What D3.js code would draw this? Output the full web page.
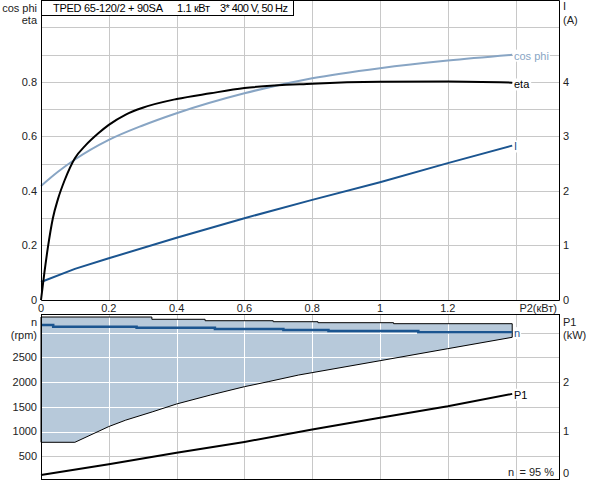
<!DOCTYPE html>
<html>
<head>
<meta charset="utf-8">
<script src="https://cdn.jsdelivr.net/npm/d3@7"></script>
<style>
  body { margin: 0; background: #fff; }
  svg { display: block; font-family: "Liberation Sans", Arial, sans-serif; font-size: 11px; }
</style>
</head>
<body>
<div id="chart"></div>
<script>
// Top panel: cos phi, eta and I against P2
const cosP2 = [0, 0.05, 0.1, 0.2, 0.3, 0.4, 0.6, 0.8, 1.0, 1.2, 1.39];
const cosPhi = [0.418, 0.47, 0.515, 0.587, 0.64, 0.685, 0.758, 0.813, 0.85, 0.878, 0.899];

const etaP2 = [0, 0.01, 0.02, 0.035, 0.05, 0.07, 0.1, 0.13, 0.17, 0.2, 0.25, 0.3, 0.4, 0.5, 0.6, 0.8, 1.0, 1.2, 1.39];
const eta = [0, 0.1, 0.19, 0.3, 0.37, 0.44, 0.52, 0.565, 0.612, 0.642, 0.68, 0.705, 0.737, 0.758, 0.777, 0.793, 0.8, 0.801, 0.797];

const curP2 = [0, 0.1, 0.2, 0.4, 0.6, 0.8, 1.0, 1.2, 1.39];
const current = [0.33, 0.57, 0.765, 1.14, 1.5, 1.835, 2.16, 2.51, 2.83];

// Bottom panel: speed range, actual speed and P1
const maxP2 = [0, 0.327, 0.484, 0.685, 0.817, 1.04, 1.39];
const nMax = [3313, 3267, 3238, 3218, 3198, 3178, 3178];

const minP2 = [0, 0.1, 0.2, 0.25, 0.33, 0.4, 0.5, 0.6, 0.67, 0.76, 1.0, 1.2, 1.39];
const nMin = [782, 782, 1100, 1230, 1400, 1556, 1737, 1905, 2006, 2141, 2430, 2673, 2903];

const speedP2 = [0, 0.036, 0.282, 0.513, 0.715, 0.848, 1.113, 1.39];
const speed = [3152, 3117, 3097, 3071, 3051, 3030, 3004, 3004];

const p1P2 = [0, 0.2, 0.4, 0.6, 0.8, 1.0, 1.2, 1.39];
const p1 = [0.12, 0.34, 0.57, 0.79, 1.04, 1.28, 1.51, 1.76];

const xTicks = [0, 0.2, 0.4, 0.6, 0.8, 1, 1.2];
const leftTicks = [0, 0.2, 0.4, 0.6, 0.8];
const currentTicks = [0, 1, 2, 3, 4];
const rpmTicks = [500, 1000, 1500, 2000, 2500];
const p1Ticks = [1, 2];

const titleParts = ['TPED 65-120/2 + 90SA', '1.1 кВт', '3* 400 V, 50 Hz'];

const width = 592, height = 480;
const left = 41, right = 559;
const topY0 = 0, topY1 = 300;
const botY0 = 314, botY1 = 479;

const svg = d3.select('#chart').append('svg')
  .attr('width', width).attr('height', height);

const x = d3.scaleLinear().domain([0, 1.528]).range([left, right]);
const yTop = d3.scaleLinear().domain([0, 1.1]).range([topY1, topY0]);
const yCur = d3.scaleLinear().domain([0, 5.5]).range([topY1, topY0]);
const yRpm = d3.scaleLinear().domain([0, 3400]).range([481, 481 - 3400 * 0.0495]);
const yP1 = d3.scaleLinear().domain([0, 3.4]).range([481, 481 - 3400 * 0.0495]);

const gridColor = '#c8c8c8';
const xGrid = d3.range(0.2, 1.41, 0.2);

// Top grid
const gTop = svg.append('g');
gTop.selectAll('.hg').data(d3.range(0.1, 1.1, 0.1)).enter().append('line')
  .attr('x1', left).attr('x2', right)
  .attr('y1', (d) => Math.round(yTop(d)) + 0.5).attr('y2', (d) => Math.round(yTop(d)) + 0.5)
  .attr('stroke', gridColor);
gTop.selectAll('.vg').data(xGrid).enter().append('line')
  .attr('x1', (d) => Math.round(x(d)) + 0.5).attr('x2', (d) => Math.round(x(d)) + 0.5)
  .attr('y1', topY0).attr('y2', topY1)
  .attr('stroke', gridColor);

// Bottom grid
const gBot = svg.append('g');
const rpmGrid = [500, 1000, 1500, 2000, 2500, 3000];
function drawBottomGrid(g, color) {
  g.selectAll('.hg').data(rpmGrid).enter().append('line')
    .attr('x1', left).attr('x2', right)
    .attr('y1', (d) => Math.round(yRpm(d)) + 0.5).attr('y2', (d) => Math.round(yRpm(d)) + 0.5)
    .attr('stroke', color);
  g.selectAll('.vg').data(xGrid).enter().append('line')
    .attr('x1', (d) => Math.round(x(d)) + 0.5).attr('x2', (d) => Math.round(x(d)) + 0.5)
    .attr('y1', botY0).attr('y2', botY1)
    .attr('stroke', color);
}
drawBottomGrid(gBot, gridColor);

// Speed range area
const upperPts = [];
maxP2.forEach((p, i) => {
  upperPts.push([x(p), yRpm(nMax[i])]);
  if (i < maxP2.length - 1) upperPts.push([x(maxP2[i + 1]), yRpm(nMax[i])]);
});
const lowerPts = minP2.map((p, i) => [x(p), yRpm(nMin[i])]);
const polyPts = upperPts.concat(lowerPts.slice().reverse());
const polyLine = d3.line();

svg.append('clipPath').attr('id', 'rangeClip')
  .append('path').attr('d', polyLine(polyPts) + 'Z');

svg.append('path')
  .attr('d', polyLine(polyPts) + 'Z')
  .attr('fill', '#b7c9da');

const gWhite = svg.append('g').attr('clip-path', 'url(#rangeClip)');
drawBottomGrid(gWhite, '#ffffff');

svg.append('path')
  .attr('d', polyLine(polyPts) + 'Z')
  .attr('fill', 'none')
  .attr('stroke', '#000')
  .attr('stroke-width', 1);

// Curve helpers
function linePath(xs, ys, yScale) {
  return d3.line().x((d) => x(d[0])).y((d) => yScale(d[1]))(xs.map((v, i) => [v, ys[i]]));
}

// Actual speed line
svg.append('path')
  .attr('d', d3.line().x((d) => x(d[0])).y((d) => yRpm(d[1])).curve(d3.curveStepAfter)(speedP2.map((v, i) => [v, speed[i]])))
  .attr('fill', 'none').attr('stroke', '#1b5590').attr('stroke-width', 2.5);

// P1
svg.append('path')
  .attr('d', linePath(p1P2, p1, yP1))
  .attr('fill', 'none').attr('stroke', '#000').attr('stroke-width', 2);

// Top curves
svg.append('path')
  .attr('d', linePath(curP2, current, yCur))
  .attr('fill', 'none').attr('stroke', '#1b5590').attr('stroke-width', 2);
svg.append('path')
  .attr('d', d3.line().x((d) => x(d[0])).y((d) => yTop(d[1])).curve(d3.curveMonotoneX)(cosP2.map((v, i) => [v, cosPhi[i]])))
  .attr('fill', 'none').attr('stroke', '#88a5c4').attr('stroke-width', 2);
svg.append('path')
  .attr('d', d3.line().x((d) => x(d[0])).y((d) => yTop(d[1])).curve(d3.curveMonotoneX)(etaP2.map((v, i) => [v, eta[i]])))
  .attr('fill', 'none').attr('stroke', '#000').attr('stroke-width', 2);

// Frames
svg.append('path')
  .attr('d', `M${left + 0.5},${topY0 + 0.5}V${topY1 + 0.5}H${right + 0.5}V${topY0 + 0.5}Z`)
  .attr('fill', 'none').attr('stroke', '#000');
svg.append('rect')
  .attr('x', left + 0.5).attr('y', botY0 + 0.5)
  .attr('width', right - left).attr('height', botY1 - botY0)
  .attr('fill', 'none').attr('stroke', '#000');

// Title box: each part fitted to the width it takes in the reference
svg.append('rect')
  .attr('x', left + 0.5).attr('y', 0.5).attr('width', 293 - left).attr('height', 15)
  .attr('fill', '#fff').attr('stroke', '#000');
const titleX = [53, 177, 220];
const titleW = [110, 33, 68];
svg.append('g').selectAll('text').data(titleParts).enter().append('text')
  .attr('x', (d, i) => titleX[i]).attr('y', 12)
  .text((d) => d)
  .each(function (d, i) {
    const natural = this.getComputedTextLength();
    const ls = (titleW[i] - natural) / Math.max(1, d.length - 1);
    d3.select(this).style('letter-spacing', `${ls}px`);
  });

// Axis labels
const txt = '#222';
function label(xp, yp, s, anchor, color) {
  svg.append('text').attr('x', xp).attr('y', yp).attr('dy', '0.35em')
    .attr('text-anchor', anchor || 'start').attr('fill', color || txt).text(s);
}
svg.append('g').selectAll('text').data(leftTicks).enter().append('text')
  .attr('x', 37).attr('y', (d) => yTop(d)).attr('dy', '0.35em')
  .attr('text-anchor', 'end').attr('fill', txt).text((d) => d === 0 ? '0' : d.toFixed(1));
label(37, 8, 'cos phi', 'end');
label(37, 20, 'eta', 'end');

svg.append('g').selectAll('text').data(currentTicks).enter().append('text')
  .attr('x', 563).attr('y', (d) => yCur(d)).attr('dy', '0.35em')
  .attr('fill', txt).text((d) => d);
label(563, 6, 'I');
label(563, 20, '(A)');

svg.append('g').selectAll('text').data(xTicks).enter().append('text')
  .attr('x', (d) => x(d)).attr('y', 308).attr('dy', '0.35em')
  .attr('text-anchor', 'middle').attr('fill', txt).text((d) => d);
label(557, 308, 'P2(кВт)', 'end');

svg.append('g').selectAll('text').data(rpmTicks).enter().append('text')
  .attr('x', 37).attr('y', (d) => yRpm(d)).attr('dy', '0.35em')
  .attr('text-anchor', 'end').attr('fill', txt).text((d) => d);
label(37, 322, 'n', 'end');
label(37, 335, '(rpm)', 'end');

svg.append('g').selectAll('text').data(p1Ticks).enter().append('text')
  .attr('x', 563).attr('y', (d) => yP1(d)).attr('dy', '0.35em')
  .attr('fill', txt).text((d) => d);
label(563, 473, '0');
label(563, 322, 'P1');
label(563, 335, '(kW)');

label(508, 472, 'n');
label(554, 472, '= 95 %', 'end');

// Curve end labels with white backing
function endLabel(yp, s, color) {
  const t = svg.append('text').attr('x', 514).attr('y', yp).attr('dy', '0.35em')
    .attr('fill', color).text(s);
  const b = t.node().getBBox();
  svg.insert('rect', () => t.node())
    .attr('x', b.x - 1).attr('y', b.y).attr('width', b.width + 2).attr('height', b.height)
    .attr('fill', '#fff');
}
endLabel(yTop(cosPhi[cosPhi.length - 1]) + 1, 'cos phi', '#88a5c4');
endLabel(yTop(eta[eta.length - 1]) + 2, 'eta', '#000');
endLabel(yCur(current[current.length - 1]) + 1, 'I', '#1b5590');
endLabel(yRpm(speed[speed.length - 1]) + 1, 'n', '#1b5590');
endLabel(yP1(p1[p1.length - 1]) + 1, 'P1', '#000');
</script>
</body>
</html>
